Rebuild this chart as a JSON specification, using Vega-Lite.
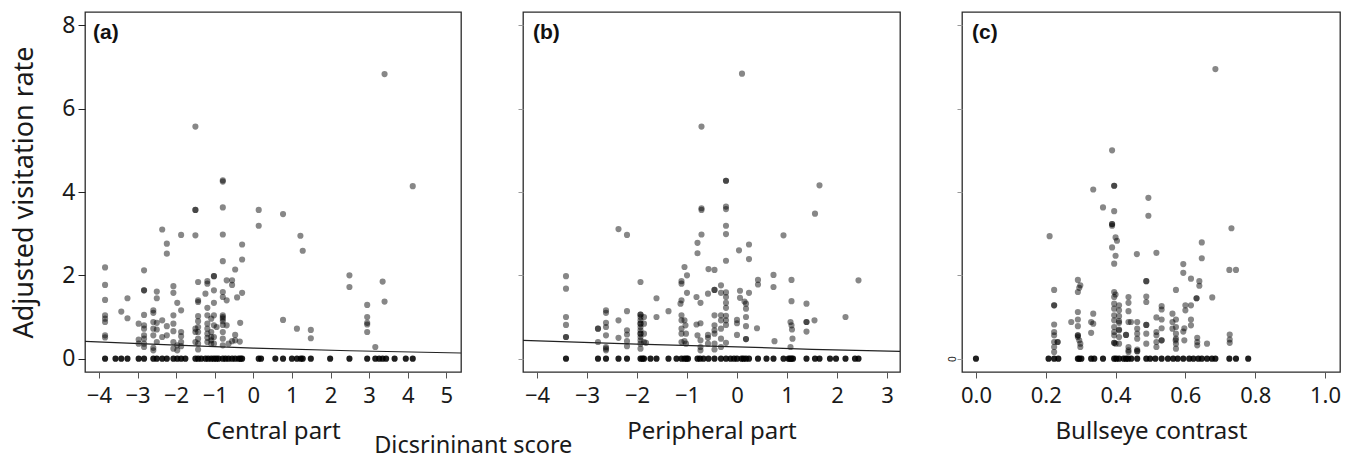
{
"$schema": "https://vega.github.io/schema/vega-lite/v6.json",
"padding": {"left": 10, "top": 11, "right": 0, "bottom": 0},
"background": "white",
"config": {
 "font": "Noto Sans",
 "view": {"stroke": "#2b2b2b", "strokeWidth": 1.3},
 "axis": {"grid": false, "domain": false, "labelColor": "#1a1a1a", "titleColor": "#1a1a1a", "labelFont": "Noto Sans", "titleFont": "Noto Sans", "titleFontWeight": "normal", "tickColor": "#555"},
 "axisX": {"labelFontSize": 22, "titleFontSize": 24, "tickSize": 6, "labelPadding": 7, "titlePadding": 13},
 "axisY": {"labelFontSize": 23, "titleFontSize": 27, "tickSize": 7, "labelPadding": 3, "titlePadding": 23}
},
"title": {"text": "Dicsrininant score", "orient": "bottom", "anchor": "start", "dx": 364, "offset": -10, "fontSize": 23.5, "fontWeight": "normal", "font": "Noto Sans", "color": "#1a1a1a"},
"bounds": "flush",
"spacing": 62,
"datasets": {
 "a": [
  {"x":-3.84,"y":2.19},{"x":-3.84,"y":1.77},{"x":-3.84,"y":1.41},{"x":-3.84,"y":1.04},{"x":-3.84,"y":0.96},{"x":-3.84,"y":0.88},{"x":-3.84,"y":0.56},{"x":-3.84,"y":0.51},
  {"x":-3.42,"y":1.13},{"x":-3.26,"y":1.45},{"x":-3.26,"y":0.97},
  {"x":-2.97,"y":0.84},{"x":-2.97,"y":0.46},{"x":-2.97,"y":0.36},
  {"x":-2.83,"y":2.12},{"x":-2.83,"y":1.64},{"x":-2.83,"y":1.64},{"x":-2.83,"y":1.05},{"x":-2.83,"y":0.8},{"x":-2.83,"y":0.72},{"x":-2.83,"y":0.56},{"x":-2.83,"y":0.48},{"x":-2.83,"y":0.36},{"x":-2.83,"y":0.28},
  {"x":-2.59,"y":1.16},{"x":-2.59,"y":1.1},{"x":-2.59,"y":0.88},{"x":-2.59,"y":0.72},{"x":-2.59,"y":0.56},{"x":-2.59,"y":0.26},{"x":-2.59,"y":0.2},
  {"x":-2.5,"y":1.61},{"x":-2.5,"y":1.45},{"x":-2.5,"y":0.86},{"x":-2.5,"y":0.7},{"x":-2.5,"y":0.4},
  {"x":-2.36,"y":3.1},{"x":-2.36,"y":0.92},{"x":-2.36,"y":0.52},
  {"x":-2.24,"y":2.76},{"x":-2.24,"y":2.52},{"x":-2.24,"y":0.78},{"x":-2.24,"y":0.56},
  {"x":-2.07,"y":1.74},{"x":-2.07,"y":1.58},{"x":-2.07,"y":1.04},{"x":-2.07,"y":0.84},{"x":-2.07,"y":0.66},{"x":-2.07,"y":0.4},{"x":-2.07,"y":0.24},
  {"x":-1.97,"y":1.34},{"x":-1.97,"y":0.32},{"x":-1.97,"y":0.2},
  {"x":-1.87,"y":2.97},{"x":-1.87,"y":1.16},{"x":-1.87,"y":0.64},{"x":-1.87,"y":0.54},{"x":-1.87,"y":0.4},{"x":-1.87,"y":0.3},
  {"x":-1.5,"y":5.57},{"x":-1.5,"y":3.57},{"x":-1.5,"y":3.57},{"x":-1.5,"y":2.96},{"x":-1.5,"y":0.72},{"x":-1.5,"y":0.64},{"x":-1.5,"y":0.4},
  {"x":-1.43,"y":1.84},{"x":-1.43,"y":1.4},{"x":-1.43,"y":1.36},{"x":-1.43,"y":1.02},{"x":-1.43,"y":0.9},{"x":-1.43,"y":0.76},{"x":-1.43,"y":0.64},{"x":-1.43,"y":0.48},{"x":-1.43,"y":0.36},{"x":-1.43,"y":0.22},
  {"x":-1.24,"y":1.56},{"x":-1.19,"y":1.86},{"x":-1.19,"y":1.8},{"x":-1.19,"y":1.22},{"x":-1.19,"y":1.04},{"x":-1.19,"y":0.84},{"x":-1.19,"y":0.72},{"x":-1.19,"y":0.6},{"x":-1.19,"y":0.5},{"x":-1.19,"y":0.4},
  {"x":-1.09,"y":0.96},{"x":-1.09,"y":0.64},{"x":-1.09,"y":0.52},{"x":-1.09,"y":0.44},{"x":-1.09,"y":0.36},
  {"x":-1.02,"y":1.98},{"x":-1.02,"y":1.98},{"x":-1.02,"y":1.64},{"x":-1.02,"y":1.34},{"x":-1.02,"y":1.04},{"x":-1.02,"y":0.8},{"x":-1.02,"y":0.52},{"x":-1.02,"y":0.36},
  {"x":-0.95,"y":0.76},
  {"x":-0.79,"y":4.28},{"x":-0.79,"y":4.25},{"x":-0.79,"y":3.63},{"x":-0.79,"y":2.98},{"x":-0.79,"y":2.34},{"x":-0.79,"y":1.6},{"x":-0.79,"y":1.48},{"x":-0.79,"y":1.04},{"x":-0.79,"y":1.0},{"x":-0.79,"y":0.96},{"x":-0.79,"y":0.9},{"x":-0.79,"y":0.81},{"x":-0.79,"y":0.64},{"x":-0.79,"y":0.48},{"x":-0.79,"y":0.32},
  {"x":-0.69,"y":1.88},{"x":-0.69,"y":1.4},{"x":-0.69,"y":0.8},
  {"x":-0.55,"y":1.88},{"x":-0.55,"y":1.77},{"x":-0.55,"y":0.42},{"x":-0.64,"y":0.36},
  {"x":-0.47,"y":2.14},{"x":-0.47,"y":0.57},{"x":-0.47,"y":0.44},
  {"x":-0.42,"y":1.47},{"x":-0.35,"y":0.41},{"x":-0.34,"y":0.86},{"x":-0.29,"y":2.74},{"x":-0.29,"y":2.38},{"x":-0.29,"y":1.58},
  {"x":0.14,"y":3.57},{"x":0.14,"y":3.19},{"x":0.77,"y":3.47},{"x":0.77,"y":0.93},{"x":1.13,"y":0.72},{"x":1.22,"y":2.95},{"x":1.28,"y":2.59},{"x":1.49,"y":0.69},{"x":1.49,"y":0.49},
  {"x":2.49,"y":2.0},{"x":2.49,"y":1.72},{"x":2.95,"y":1.29},{"x":2.95,"y":1.0},{"x":2.95,"y":0.86},{"x":2.95,"y":0.82},{"x":2.95,"y":0.64},{"x":3.16,"y":0.28},{"x":3.35,"y":1.85},{"x":3.4,"y":1.37},{"x":3.4,"y":6.83},{"x":4.13,"y":4.14},
  {"x":-3.84,"y":0},{"x":-3.57,"y":0},{"x":-3.42,"y":0},{"x":-3.26,"y":0},{"x":-2.97,"y":0},{"x":-2.83,"y":0},{"x":-2.59,"y":0},{"x":-2.5,"y":0},{"x":-2.36,"y":0},{"x":-2.24,"y":0},{"x":-2.07,"y":0},{"x":-1.97,"y":0},{"x":-1.87,"y":0},{"x":-1.76,"y":0},{"x":-1.5,"y":0},{"x":-1.43,"y":0},{"x":-1.35,"y":0},{"x":-1.24,"y":0},{"x":-1.17,"y":0},{"x":-1.09,"y":0},{"x":-1.02,"y":0},{"x":-0.96,"y":0},{"x":-0.9,"y":0},{"x":-0.79,"y":0},{"x":-0.72,"y":0},{"x":-0.64,"y":0},{"x":-0.55,"y":0},{"x":-0.47,"y":0},{"x":-0.38,"y":0},{"x":-0.33,"y":0},{"x":-0.29,"y":0},{"x":0.14,"y":0},{"x":0.2,"y":0},{"x":0.57,"y":0},{"x":0.77,"y":0},{"x":1.0,"y":0},{"x":1.13,"y":0},{"x":1.23,"y":0},{"x":1.28,"y":0},{"x":1.49,"y":0},{"x":1.99,"y":0},{"x":2.49,"y":0},{"x":2.95,"y":0},{"x":3.16,"y":0},{"x":3.26,"y":0},{"x":3.35,"y":0},{"x":3.44,"y":0},{"x":3.66,"y":0},{"x":3.95,"y":0},{"x":4.13,"y":0}
 ],
 "la": [{"x":-4.36,"y":0.415},{"x":-2,"y":0.325},{"x":0,"y":0.255},{"x":2.5,"y":0.19},{"x":5.38,"y":0.136}],
 "b": [
  {"x":0.1,"y":6.84},{"x":-0.71,"y":5.57},{"x":-0.22,"y":4.27},{"x":-0.22,"y":4.27},{"x":1.65,"y":4.16},{"x":1.56,"y":3.48},{"x":-0.71,"y":3.61},{"x":-0.71,"y":3.57},{"x":-0.22,"y":3.65},{"x":-0.22,"y":3.59},{"x":-0.22,"y":3.19},{"x":-0.22,"y":2.99},{"x":-0.71,"y":2.98},{"x":-2.37,"y":3.11},{"x":-2.2,"y":2.97},{"x":0.93,"y":2.96},{"x":-0.79,"y":2.78},{"x":-0.79,"y":2.53},{"x":0.04,"y":2.6},{"x":0.24,"y":2.74},{"x":0.24,"y":2.39},{"x":-0.22,"y":2.35},{"x":-1.05,"y":2.2},{"x":-1.0,"y":2.0},{"x":-0.57,"y":2.15},{"x":-0.45,"y":2.13},
  {"x":-3.42,"y":1.98},{"x":-3.42,"y":1.68},{"x":-3.42,"y":1.0},{"x":-3.42,"y":0.81},{"x":-3.42,"y":0.52},{"x":-3.42,"y":0.52},
  {"x":-1.93,"y":1.84},{"x":-1.11,"y":1.86},{"x":-1.11,"y":1.8},{"x":-1.0,"y":1.58},{"x":-1.11,"y":1.4},{"x":-1.13,"y":1.32},{"x":-1.61,"y":1.45},{"x":-1.61,"y":1.0},{"x":-1.37,"y":1.14},{"x":-0.81,"y":1.48},{"x":-0.73,"y":1.34},{"x":-0.58,"y":1.56},{"x":-0.45,"y":1.65},{"x":-0.45,"y":1.65},{"x":-0.32,"y":1.76},{"x":-0.22,"y":1.59},{"x":-0.22,"y":1.48},{"x":-0.22,"y":1.34},{"x":-0.22,"y":1.22},{"x":-0.22,"y":1.03},{"x":-0.22,"y":0.92},{"x":-0.22,"y":0.81},{"x":-0.22,"y":0.38},{"x":-0.32,"y":1.58},
  {"x":0.06,"y":1.63},{"x":0.06,"y":1.46},{"x":0.15,"y":1.37},{"x":0.18,"y":1.32},{"x":0.18,"y":1.2},{"x":0.18,"y":1.0},{"x":0.18,"y":0.78},{"x":0.18,"y":0.47},{"x":0.18,"y":0.47},{"x":0.24,"y":1.58},{"x":0.0,"y":0.93},{"x":0.0,"y":0.85},{"x":0.0,"y":0.57},{"x":0.42,"y":1.89},{"x":0.42,"y":1.78},{"x":0.4,"y":0.73},{"x":0.73,"y":2.01},{"x":0.73,"y":1.72},{"x":0.75,"y":0.42},
  {"x":1.09,"y":1.89},{"x":1.09,"y":1.38},{"x":1.07,"y":0.88},{"x":1.09,"y":0.8},{"x":1.1,"y":0.7},{"x":1.11,"y":0.48},{"x":1.07,"y":0.28},{"x":1.39,"y":1.32},{"x":1.39,"y":0.88},{"x":1.39,"y":0.88},{"x":1.39,"y":0.65},{"x":1.55,"y":0.92},{"x":2.17,"y":1.0},{"x":2.43,"y":1.88},
  {"x":-2.78,"y":0.72},{"x":-2.78,"y":0.72},{"x":-2.78,"y":0.4},{"x":-2.62,"y":1.16},{"x":-2.62,"y":1.1},{"x":-2.62,"y":0.86},{"x":-2.62,"y":0.76},{"x":-2.62,"y":0.56},{"x":-2.62,"y":0.28},{"x":-2.62,"y":0.2},{"x":-2.62,"y":0.24},{"x":-2.37,"y":0.92},{"x":-2.37,"y":0.5},{"x":-2.2,"y":1.14},{"x":-2.2,"y":0.68},{"x":-2.2,"y":0.58},{"x":-2.2,"y":0.42},{"x":-2.2,"y":0.3},
  {"x":-1.93,"y":1.06},{"x":-1.93,"y":1.0},{"x":-1.93,"y":0.92},{"x":-1.93,"y":0.84},{"x":-1.93,"y":0.76},{"x":-1.93,"y":0.68},{"x":-1.93,"y":0.6},{"x":-1.93,"y":0.52},{"x":-1.93,"y":0.44},{"x":-1.93,"y":0.36},{"x":-1.93,"y":0.24},{"x":-1.93,"y":1.06},{"x":-1.93,"y":0.84},{"x":-1.93,"y":0.6},{"x":-1.86,"y":1.0},{"x":-1.86,"y":0.84},{"x":-1.86,"y":0.6},{"x":-1.86,"y":0.4},{"x":-1.82,"y":0.38},
  {"x":-1.11,"y":1.04},{"x":-1.11,"y":0.92},{"x":-1.11,"y":0.72},{"x":-1.11,"y":0.6},{"x":-1.11,"y":0.4},{"x":-1.05,"y":0.92},{"x":-1.03,"y":0.8},{"x":-1.02,"y":0.6},{"x":-1.02,"y":0.36},{"x":-1.05,"y":0.42},
  {"x":-0.81,"y":0.82},{"x":-0.73,"y":0.85},{"x":-0.79,"y":0.56},{"x":-0.73,"y":0.44},{"x":-0.73,"y":0.28},{"x":-0.73,"y":0.2},{"x":-0.58,"y":0.57},{"x":-0.58,"y":0.36},{"x":-0.58,"y":0.5},
  {"x":-0.45,"y":1.04},{"x":-0.45,"y":0.8},{"x":-0.45,"y":0.68},{"x":-0.45,"y":0.6},{"x":-0.45,"y":0.36},{"x":-0.45,"y":0.22},{"x":-0.32,"y":1.04},{"x":-0.32,"y":0.92},{"x":-0.32,"y":0.72},{"x":-0.32,"y":0.28},{"x":-0.32,"y":0.48},
  {"x":-3.42,"y":0},{"x":-2.78,"y":0},{"x":-2.62,"y":0},{"x":-2.37,"y":0},{"x":-2.2,"y":0},{"x":-1.93,"y":0},{"x":-1.89,"y":0},{"x":-1.86,"y":0},{"x":-1.73,"y":0},{"x":-1.61,"y":0},{"x":-1.37,"y":0},{"x":-1.21,"y":0},{"x":-1.11,"y":0},{"x":-1.05,"y":0},{"x":-1.01,"y":0},{"x":-0.98,"y":0},{"x":-0.79,"y":0},{"x":-0.74,"y":0},{"x":-0.67,"y":0},{"x":-0.57,"y":0},{"x":-0.45,"y":0},{"x":-0.32,"y":0},{"x":-0.22,"y":0},{"x":-0.13,"y":0},{"x":-0.06,"y":0},{"x":0.0,"y":0},{"x":0.09,"y":0},{"x":0.13,"y":0},{"x":0.18,"y":0},{"x":0.24,"y":0},{"x":0.42,"y":0},{"x":0.59,"y":0},{"x":0.73,"y":0},{"x":0.93,"y":0},{"x":1.03,"y":0},{"x":1.06,"y":0},{"x":1.09,"y":0},{"x":1.12,"y":0},{"x":1.39,"y":0},{"x":1.56,"y":0},{"x":1.65,"y":0},{"x":1.86,"y":0},{"x":1.98,"y":0},{"x":2.17,"y":0},{"x":2.36,"y":0},{"x":2.43,"y":0}
 ],
 "lb": [{"x":-4.28,"y":0.44},{"x":-2,"y":0.35},{"x":0,"y":0.285},{"x":1.5,"y":0.225},{"x":3.26,"y":0.176}],
 "c": [
  {"x":0.686,"y":6.95},{"x":0.39,"y":5.0},{"x":0.396,"y":4.15},{"x":0.396,"y":4.15},{"x":0.336,"y":4.06},{"x":0.494,"y":3.86},{"x":0.364,"y":3.63},{"x":0.396,"y":3.54},{"x":0.494,"y":3.43},{"x":0.39,"y":3.23},{"x":0.39,"y":3.19},{"x":0.39,"y":3.23},{"x":0.732,"y":3.13},{"x":0.211,"y":2.94},{"x":0.4,"y":2.91},{"x":0.404,"y":2.83},{"x":0.39,"y":2.67},{"x":0.647,"y":2.79},{"x":0.461,"y":2.51},{"x":0.517,"y":2.54},{"x":0.4,"y":2.47},{"x":0.396,"y":2.28},{"x":0.647,"y":2.41},{"x":0.594,"y":2.27},{"x":0.594,"y":2.06},{"x":0.726,"y":2.13},{"x":0.745,"y":2.13},{"x":0.616,"y":1.92},{"x":0.64,"y":1.86},{"x":0.64,"y":1.75},
  {"x":0.292,"y":1.89},{"x":0.299,"y":1.76},{"x":0.296,"y":1.7},{"x":0.292,"y":1.6},{"x":0.224,"y":1.65},{"x":0.224,"y":1.28},{"x":0.224,"y":1.28},{"x":0.488,"y":1.86},{"x":0.488,"y":1.86},{"x":0.488,"y":1.49},{"x":0.488,"y":1.36},{"x":0.573,"y":1.65},{"x":0.677,"y":1.47},{"x":0.632,"y":1.45},{"x":0.632,"y":1.45},{"x":0.616,"y":1.28},{"x":0.6,"y":1.28},{"x":0.6,"y":1.16},{"x":0.616,"y":0.94},{"x":0.597,"y":0.73},{"x":0.594,"y":0.65},{"x":0.572,"y":0.44},
  {"x":0.396,"y":1.6},{"x":0.396,"y":1.48},{"x":0.4,"y":1.54},{"x":0.396,"y":1.32},{"x":0.396,"y":1.2},{"x":0.396,"y":1.04},{"x":0.396,"y":0.92},{"x":0.396,"y":0.76},{"x":0.396,"y":0.64},{"x":0.396,"y":0.56},{"x":0.41,"y":1.28},{"x":0.41,"y":1.16},{"x":0.41,"y":1.02},{"x":0.41,"y":0.86},{"x":0.41,"y":0.68},{"x":0.41,"y":0.52},{"x":0.41,"y":0.36},{"x":0.396,"y":0.38},{"x":0.396,"y":0.38},{"x":0.4,"y":0.36},{"x":0.41,"y":0.9},{"x":0.41,"y":0.7},
  {"x":0.437,"y":1.48},{"x":0.437,"y":1.34},{"x":0.437,"y":1.14},{"x":0.437,"y":0.88},{"x":0.444,"y":0.88},{"x":0.43,"y":0.57},{"x":0.43,"y":0.57},{"x":0.437,"y":0.28},{"x":0.437,"y":0.16},{"x":0.437,"y":0.2},
  {"x":0.462,"y":0.88},{"x":0.462,"y":0.72},{"x":0.462,"y":0.6},{"x":0.462,"y":0.48},{"x":0.462,"y":0.18},{"x":0.462,"y":0.18},{"x":0.462,"y":0.22},
  {"x":0.336,"y":1.08},{"x":0.33,"y":0.88},{"x":0.336,"y":0.84},{"x":0.33,"y":0.62},{"x":0.273,"y":0.88},
  {"x":0.292,"y":1.12},{"x":0.292,"y":0.94},{"x":0.292,"y":0.78},{"x":0.292,"y":0.52},{"x":0.292,"y":0.56},{"x":0.292,"y":0.56},{"x":0.296,"y":0.44},{"x":0.299,"y":0.36},{"x":0.299,"y":0.28},
  {"x":0.224,"y":0.82},{"x":0.224,"y":0.64},{"x":0.224,"y":0.56},{"x":0.224,"y":0.4},{"x":0.224,"y":0.28},{"x":0.224,"y":0.16},{"x":0.234,"y":0.4},{"x":0.234,"y":0.4},
  {"x":0.532,"y":1.26},{"x":0.532,"y":1.18},{"x":0.532,"y":0.94},{"x":0.532,"y":0.73},{"x":0.532,"y":0.44},{"x":0.532,"y":0.44},{"x":0.517,"y":0.99},{"x":0.517,"y":0.64},{"x":0.517,"y":0.56},{"x":0.517,"y":0.4},{"x":0.517,"y":0.28},{"x":0.488,"y":0.81},{"x":0.488,"y":0.81},{"x":0.488,"y":0.6},{"x":0.488,"y":0.36},
  {"x":0.563,"y":1.08},{"x":0.563,"y":0.88},{"x":0.563,"y":0.72},{"x":0.573,"y":0.94},{"x":0.573,"y":0.76},{"x":0.573,"y":0.6},{"x":0.573,"y":0.48},{"x":0.573,"y":0.36},{"x":0.573,"y":0.24},{"x":0.634,"y":0.5},{"x":0.634,"y":0.4},{"x":0.634,"y":0.32},{"x":0.662,"y":0.36},{"x":0.727,"y":0.58},{"x":0.727,"y":0.46},{"x":0.727,"y":0.38},{"x":0.597,"y":0.44},{"x":0.616,"y":0.8},
  {"x":0.0,"y":0},{"x":0.208,"y":0},{"x":0.224,"y":0},{"x":0.236,"y":0},{"x":0.292,"y":0},{"x":0.296,"y":0},{"x":0.302,"y":0},{"x":0.33,"y":0},{"x":0.339,"y":0},{"x":0.364,"y":0},{"x":0.396,"y":0},{"x":0.402,"y":0},{"x":0.41,"y":0},{"x":0.423,"y":0},{"x":0.43,"y":0},{"x":0.436,"y":0},{"x":0.445,"y":0},{"x":0.462,"y":0},{"x":0.488,"y":0},{"x":0.499,"y":0},{"x":0.514,"y":0},{"x":0.532,"y":0},{"x":0.55,"y":0},{"x":0.565,"y":0},{"x":0.578,"y":0},{"x":0.594,"y":0},{"x":0.611,"y":0},{"x":0.623,"y":0},{"x":0.637,"y":0},{"x":0.647,"y":0},{"x":0.662,"y":0},{"x":0.676,"y":0},{"x":0.686,"y":0},{"x":0.726,"y":0},{"x":0.745,"y":0},{"x":0.78,"y":0}
 ]
},
"hconcat": [
 {
  "width": 376, "height": 360,
  "title": {"text": "(a)", "anchor": "start", "frame": "group", "orient": "top", "dx": 8, "offset": -31, "baseline": "top", "font": "Liberation Sans", "fontWeight": "bold", "fontSize": 21, "color": "#111"},
  "layer": [
   {"data": {"name": "a"}, "mark": {"type": "circle", "size": 38, "color": "#000"},
    "encoding": {
     "x": {"field": "x", "type": "quantitative", "scale": {"domain": [-4.36, 5.38], "nice": false, "zero": false}, "axis": {"values": [-4,-3,-2,-1,0,1,2,3,4,5], "title": "Central part"}},
     "y": {"field": "y", "type": "quantitative", "scale": {"domain": [-0.32, 8.32], "nice": false, "zero": false}, "axis": {"values": [0,2,4,6,8], "title": "Adjusted visitation rate", "tickColor": "#222"}},
     "opacity": {"condition": {"test": "datum.y === 0", "value": 0.88}, "value": 0.47}
    }},
   {"data": {"name": "la"}, "mark": {"type": "line", "color": "#222", "strokeWidth": 1.2, "clip": true},
    "encoding": {"x": {"field": "x", "type": "quantitative"}, "y": {"field": "y", "type": "quantitative"}}}
  ]
 },
 {
  "width": 377, "height": 360,
  "title": {"text": "(b)", "anchor": "start", "frame": "group", "orient": "top", "dx": 10, "offset": -31, "baseline": "top", "font": "Liberation Sans", "fontWeight": "bold", "fontSize": 21, "color": "#111"},
  "layer": [
   {"data": {"name": "b"}, "mark": {"type": "circle", "size": 38, "color": "#000"},
    "encoding": {
     "x": {"field": "x", "type": "quantitative", "scale": {"domain": [-4.28, 3.26], "nice": false, "zero": false}, "axis": {"values": [-4,-3,-2,-1,0,1,2,3], "title": "Peripheral part"}},
     "y": {"field": "y", "type": "quantitative", "scale": {"domain": [-0.32, 8.32], "nice": false, "zero": false}, "axis": {"values": [0,2,4,6,8], "labels": false, "title": null, "tickColor": "#999", "tickSize": 5}},
     "opacity": {"condition": {"test": "datum.y === 0", "value": 0.88}, "value": 0.47}
    }},
   {"data": {"name": "lb"}, "mark": {"type": "line", "color": "#222", "strokeWidth": 1.2, "clip": true},
    "encoding": {"x": {"field": "x", "type": "quantitative"}, "y": {"field": "y", "type": "quantitative"}}}
  ]
 },
 {
  "width": 378, "height": 360,
  "title": {"text": "(c)", "anchor": "start", "frame": "group", "orient": "top", "dx": 10, "offset": -31, "baseline": "top", "font": "Liberation Sans", "fontWeight": "bold", "fontSize": 21, "color": "#111"},
  "layer": [
   {"data": {"name": "c"}, "mark": {"type": "circle", "size": 38, "color": "#000"},
    "encoding": {
     "x": {"field": "x", "type": "quantitative", "scale": {"domain": [-0.04, 1.043], "nice": false, "zero": false}, "axis": {"values": [0,0.2,0.4,0.6,0.8,1.0], "format": ".1f", "title": "Bullseye contrast"}},
     "y": {"field": "y", "type": "quantitative", "scale": {"domain": [-0.32, 8.32], "nice": false, "zero": false}, "axis": {"values": [0,2,4,6,8], "labelExpr": "datum.value === 0 ? '0' : ''", "labelAngle": 90, "labelFontSize": 10, "labelPadding": 2, "title": null, "tickColor": "#999", "tickSize": 5}},
     "opacity": {"condition": {"test": "datum.y === 0", "value": 0.88}, "value": 0.47}
    }}
  ]
 }
]
}
